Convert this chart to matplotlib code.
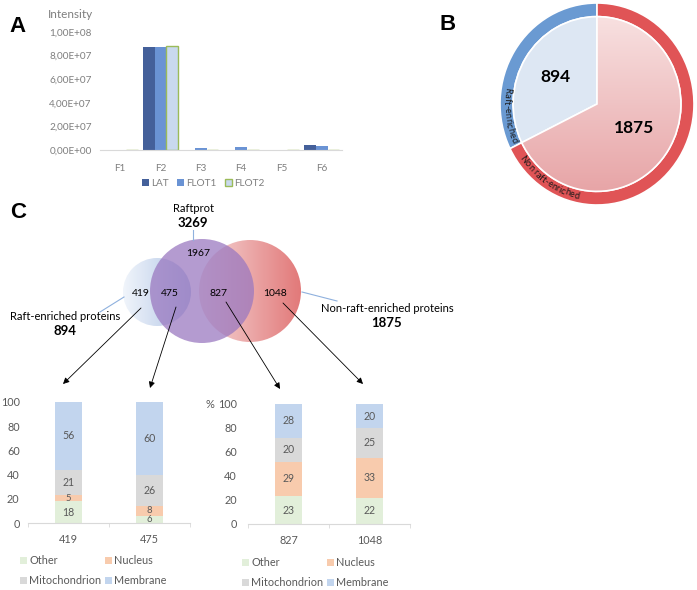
import numpy as np
import matplotlib
matplotlib.use("Agg")
import matplotlib.pyplot as plt
from matplotlib.patches import Circle, Patch
from matplotlib.colors import LinearSegmentedColormap
from matplotlib.textpath import TextToPath
from matplotlib.font_manager import FontProperties
from matplotlib.ticker import FuncFormatter

plt.rcParams['font.family'] = ['Lato', 'DejaVu Sans']

# --- panel A: intensity per fraction
fractions = ["F1", "F2", "F3", "F4", "F5", "F6"]
lat = [0, 8.7e7, 0, 0, 0, 4.0e6]
flot1 = [0, 8.7e7, 1.6e6, 2.8e6, 0, 3.1e6]
flot2 = [0, 8.85e7, 0, 0, 0, 0]

# --- panel B: raft / non raft
pie_labels = ["Raft-enriched", "Non raft-enriched"]
pie_counts = [894, 1875]

# --- panel C: venn + localisation
raftprot_total = 3269
raft_total = 894
nonraft_total = 1875
venn_counts = [419, 475, 1967, 827, 1048]
groups = ["419", "475", "827", "1048"]
locations = ["Other", "Nucleus", "Mitochondrion", "Membrane"]
other_pct = [18, 6, 23, 22]
nucleus_pct = [5, 8, 29, 33]
mito_pct = [21, 26, 20, 25]
membrane_pct = [56, 60, 28, 20]

W, H = 697, 590
fig = plt.figure(figsize=(W / 100, H / 100), dpi=100)
GREY = '#595959'
LGREY = '#D9D9D9'
loc_colors = ['#E2EFDA', '#F8CBAD', '#D9D9D9', '#C2D5EE']


def px_axes(x0, y0, x1, y1):
    return fig.add_axes([x0 / W, 1 - y1 / H, (x1 - x0) / W, (y1 - y0) / H])


# overlay in pixel coordinates, drawn above the other axes
ov = px_axes(0, 0, W, H)
ov.set_xlim(0, W)
ov.set_ylim(H, 0)
ov.axis('off')
ov.set_zorder(10)

bold_fam = ['Liberation Sans', 'DejaVu Sans']
ov.text(18, 26, "A", fontsize=16, fontweight='bold', family=bold_fam, ha='center', va='center')
ov.text(448, 25, "B", fontsize=16, fontweight='bold', family=bold_fam, ha='center', va='center')
ov.text(18, 213, "C", fontsize=16, fontweight='bold', family=bold_fam, ha='center', va='center')

# ---------- A
axA = px_axes(100, 32, 342, 150)
x = np.arange(len(fractions))
w = 0.29
axA.bar(x - w, lat, w, color='#44609A', label='LAT')
axA.bar(x, flot1, w, color='#6A93D4', label='FLOT1')
axA.bar(x + w, flot2, w, color='#C9D9EE', edgecolor='#9BBB59', linewidth=1, label='FLOT2')
axA.set_xlim(-0.5, len(fractions) - 0.5)
axA.set_ylim(0, 1e8)
axA.set_yticks(np.arange(0, 1.01e8, 2e7))
axA.yaxis.set_major_formatter(FuncFormatter(lambda v, p: f"{v:.2E}".replace('.', ',')))
axA.set_xticks(x)
axA.set_xticklabels(fractions)
for s in ['top', 'right', 'left']:
    axA.spines[s].set_visible(False)
axA.spines['bottom'].set_color(LGREY)
axA.tick_params(length=0, colors='#7F7F7F', labelsize=7.2)
axA.tick_params(axis='y', pad=6)
axA.tick_params(axis='x', pad=10)
axA.set_facecolor('none')
fig.legend(*axA.get_legend_handles_labels(), loc='center', ncol=3, frameon=False,
           bbox_to_anchor=(203 / W, 1 - 183 / H), fontsize=7.2, labelcolor='#7F7F7F',
           handlelength=0.7, handleheight=0.7, handletextpad=0.25, columnspacing=0.8)
ov.text(70, 14, "Intensity", fontsize=8.5, color='#7F7F7F', ha='center', va='center')

# ---------- B
axB = px_axes(500, 3, 694, 205)
ring_cols = ['#6A9AD2', '#E05456']
axB.pie(pie_counts, radius=1, startangle=90, counterclock=True, colors=ring_cols,
        wedgeprops=dict(width=0.135, edgecolor='white', linewidth=1.2))
inner, _ = axB.pie(pie_counts, radius=0.865, startangle=90, counterclock=True,
                   colors=['#DDE7F3', '#F0C0C0'],
                   wedgeprops=dict(edgecolor='white', linewidth=1.2))
red_cmap = LinearSegmentedColormap.from_list('rg', ['#E6A0A2', '#F9E5E5'])
img = axB.imshow(np.linspace(0, 1, 256).reshape(-1, 1), cmap=red_cmap, origin='lower',
                 extent=(-1, 1, -1, 1), aspect='auto', zorder=1.5)
img.set_clip_path(inner[1])
inner[1].set_facecolor('none')
inner[1].set_zorder(2)
axB.set_aspect('auto')
axB.set_xlim(-1, 1)
axB.set_ylim(-1, 1)
axB.axis('off')
total = sum(pie_counts)
start = 90
for cnt, rr in zip(pie_counts, [0.5, 0.45]):
    mid = np.radians(start + 180 * cnt / total)
    axB.text(rr * np.cos(mid), rr * np.sin(mid), str(cnt), fontsize=12.5, fontweight='bold',
             ha='center', va='center', zorder=3)
    start += 360 * cnt / total

cx, cy, rx, ry = 597, 104, 97, 101
t2p = TextToPath()


def arc_text(s, mid_deg, size):
    fp = FontProperties(family=['Lato'], size=size)
    widths = [t2p.get_text_width_height_descent(c, fp, ismath=False)[0] * 100 / 72 for c in s]
    r = 0.932 * (rx + ry) / 2
    ang = np.radians(mid_deg) - sum(widths) / 2 / r
    for c, cw in zip(s, widths):
        a = ang + cw / 2 / r
        ov.text(cx + 0.932 * rx * np.cos(a), cy - 0.932 * ry * np.sin(a), c,
                rotation=np.degrees(a) + 90, rotation_mode='anchor',
                ha='center', va='center', fontproperties=fp, color='#1A1A1A', zorder=5)
        ang += cw / r


arc_text(pie_labels[0], 187, 6.6)
arc_text(pie_labels[1], 236, 6.6)

# ---------- C venn
def grad_circle(cxx, cyy, r, c0, c1):
    circ = Circle((cxx, cyy), r, facecolor='none', edgecolor='none')
    ov.add_patch(circ)
    cm = LinearSegmentedColormap.from_list('g', [c0, c1])
    im = ov.imshow(np.linspace(0, 1, 256).reshape(1, -1), cmap=cm,
                   extent=(cxx - r, cxx + r, cyy + r, cyy - r), aspect='auto', zorder=1)
    im.set_clip_path(circ)


grad_circle(157, 292, 34, '#F1F5FB', '#AFC4E5')
grad_circle(250, 291, 51, '#F5D8D8', '#E27979')
ov.add_patch(Circle((202, 291), 52, facecolor='#9A78C0', alpha=0.74, edgecolor='none', zorder=2))
ov.set_xlim(0, W)
ov.set_ylim(H, 0)

vpos = [(141, 293), (170, 293), (198, 254), (218, 293), (275, 293)]
for (vx, vy), n in zip(vpos, venn_counts):
    ov.text(vx, vy, str(n), fontsize=7.5, ha='center', va='center', zorder=4)

ov.text(193, 208, "Raftprot", fontsize=8, ha='center', va='center')
ov.text(193, 223, str(raftprot_total), fontsize=9.5, fontweight='bold', ha='center', va='center')
ov.text(65, 316, "Raft-enriched proteins", fontsize=8, ha='center', va='center')
ov.text(65, 331, str(raft_total), fontsize=9.5, fontweight='bold', ha='center', va='center')
ov.text(387, 308, "Non-raft-enriched proteins", fontsize=8, ha='center', va='center')
ov.text(387, 323, str(nonraft_total), fontsize=9.5, fontweight='bold', ha='center', va='center')

lc = '#8FB1DE'
ov.plot([193, 193], [230, 240], color=lc, lw=0.8)
ov.plot([100, 124], [312, 297], color=lc, lw=0.8)
ov.plot([302, 337], [292, 301], color=lc, lw=0.8)

arrows = [((141, 308), (63, 384)), ((176, 307), (150, 388)),
          ((226, 302), (280, 389)), ((283, 303), (363, 384))]
for s0, s1 in arrows:
    ov.annotate('', xy=s1, xytext=s0,
                arrowprops=dict(arrowstyle='-|>', color='black', lw=0.6, mutation_scale=9,
                                shrinkA=0, shrinkB=0), zorder=5)

# ---------- C bars
def stacked(ax, idx, legend_xy, ypad):
    xs = np.arange(len(idx))
    bottom = np.zeros(len(idx))
    series = [other_pct, nucleus_pct, mito_pct, membrane_pct]
    for vals, col, name in zip(series, loc_colors, locations):
        v = np.array([vals[i] for i in idx])
        ax.bar(xs, v, 0.33, bottom=bottom, color=col, label=name)
        for xx, b, vv in zip(xs, bottom, v):
            # small segments get a slightly smaller label so they don't collide
            fs = 7.6 if vv >= 10 else 6.8
            ax.text(xx, b + vv / 2, str(vv), ha='center', va='center', fontsize=fs, color=GREY)
        bottom += v
    ax.set_xlim(-0.5, len(idx) - 0.5)
    ax.set_ylim(0, 100)
    ax.set_yticks(np.arange(0, 101, 20))
    ax.set_xticks(xs)
    ax.set_xticklabels([groups[i] for i in idx])
    ax.set_xticks(np.arange(-0.5, len(idx), 1), minor=True)
    for s in ['top', 'right', 'left']:
        ax.spines[s].set_visible(False)
    ax.spines['bottom'].set_color(LGREY)
    ax.tick_params(axis='both', which='major', length=0, colors=GREY, labelsize=7.8)
    ax.tick_params(axis='x', which='minor', length=3, color=LGREY)
    ax.tick_params(axis='y', pad=ypad)
    ax.tick_params(axis='x', pad=8)
    ax.set_facecolor('none')
    h, l = ax.get_legend_handles_labels()
    order = [0, 2, 1, 3]
    ax.legend([h[i] for i in order], [l[i] for i in order], ncol=2, frameon=False,
              loc='upper left', bbox_to_anchor=legend_xy, bbox_transform=fig.transFigure,
              fontsize=7.8, labelcolor=GREY, handlelength=0.6, handleheight=0.6,
              handletextpad=0.25, columnspacing=0.35, labelspacing=0.85,
              borderpad=0, borderaxespad=0)


axL = px_axes(28, 402, 190, 523)
stacked(axL, [0, 1], (20 / W, 1 - 555 / H), 6)
axR = px_axes(248, 404, 410, 524)
stacked(axR, [2, 3], (242 / W, 1 - 557 / H), 8)
ov.text(210, 404, "%", fontsize=8, color=GREY, ha='center', va='center')

fig.savefig("out.png", dpi=100)
